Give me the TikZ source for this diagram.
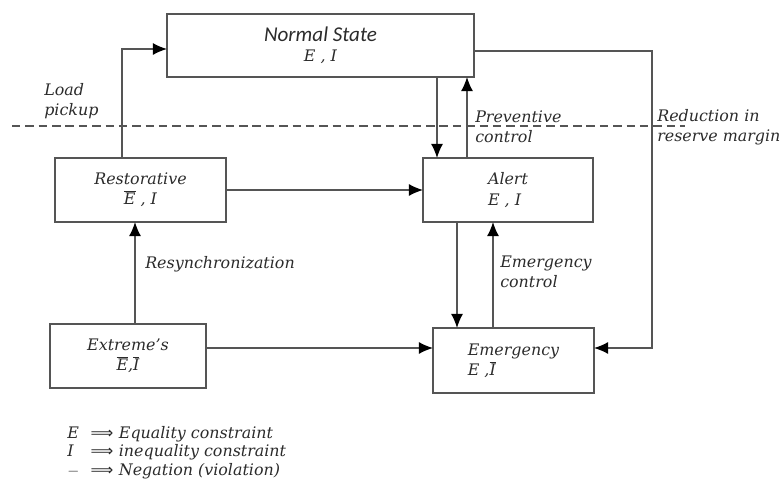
\documentclass[tikz,border=0pt]{standalone}
\usepackage{fontspec}
\setmainfont{DejaVu Serif}
\newfontfamily\headfont{Carlito}
\newfontfamily\symfont{DejaVu Sans}
\usepackage{tikz}
\usetikzlibrary{arrows.meta,positioning,calc}
\definecolor{boxline}{HTML}{555555}
\definecolor{ink}{HTML}{2B2B2B}
\newcommand{\negd}[1]{$\overline{\mbox{#1}}$}
\newcommand{\implsym}{{\symfont\upshape ⟹}}
\tikzset{
  statebox/.style={draw=boxline, line width=0.9pt, inner sep=0pt, outer sep=0pt,
                   align=center, text=ink, font=\fontsize{11.3}{14.5}\selectfont\itshape},
  edgenote/.style={text=ink, align=left, inner sep=0pt,
                   font=\fontsize{11.3}{14.5}\selectfont\itshape},
  flow/.style={-{Latex[length=10pt,width=8.5pt,color=black]}, line width=0.9pt, draw=boxline}
}

\begin{document}
\begin{tikzpicture}[x=0.025cm, y=-0.025cm]
\useasboundingbox (0,0) rectangle (784,481);

% operating states
\node[statebox, minimum width=7.675cm, minimum height=1.575cm] (normal) at (320.5,45.5)
  {{\headfont\fontsize{15}{17}\selectfont Normal State}\\E , I};
\node[statebox, minimum width=4.275cm, minimum height=1.6cm] (restor) at (140.5,190)
  {Restorative\\\negd{E} , I};
\node[statebox, align=left, minimum width=4.25cm, minimum height=1.6cm] (alert) at (508,190)
  {Alert\\E , I};
\node[statebox, align=left, minimum width=4.025cm, minimum height=1.625cm] (emerg) at (513.5,360.5)
  {Emergency\\E ,\negd{I}};
\node[statebox, minimum width=3.9cm, minimum height=1.6cm] (extreme) at (128,356)
  {Extreme's\\\negd{E},\negd{I}};

% secure / insecure border
\draw[boxline, line width=0.9pt, dash pattern=on 6pt off 3.5pt] (12,126) -- (685,126);

% transitions
\draw[flow] (restor.north -| 122,0) |- (normal.west |- 0,49);
\draw[flow] (normal.south -| 437,0) -- (alert.north -| 437,0);
\draw[flow] (alert.north -| 467,0) -- (normal.south -| 467,0);
\draw[flow] (restor.east) -- (alert.west);
\draw[flow] (extreme.north -| 135,0) -- (restor.south -| 135,0);
\draw[flow] (alert.south -| 457,0) -- (emerg.north -| 457,0);
\draw[flow] (emerg.north -| 493,0) -- (alert.south -| 493,0);
\draw[flow] (extreme.east |- 0,348) -- (emerg.west |- 0,348);
\draw[flow] (normal.east |- 0,51) -| (652,348) -- (emerg.east |- 0,348);

% transition labels
\node[edgenote, anchor=west] (loadnote) at (44,101) {Load\\pickup};
\node[edgenote, anchor=west] (prevnote) at (475,127) {Preventive\\control};
\node[edgenote, anchor=west] (reducnote) at (657,127) {Reduction in\\reserve margin};
\node[edgenote, anchor=west] (emergnote) at (500,272) {Emergency\\control};
\node[edgenote, anchor=west] (resyncnote) at (145,264) {Resynchronization};

% legend
\node[edgenote, anchor=west] (legend) at (67,453) {%
  \renewcommand{\arraystretch}{0.9}%
  \begin{tabular}{@{}l@{\hspace{8pt}}l@{\hspace{4pt}}l@{}}
  E & \implsym & Equality constraint\\
  I & \implsym & inequality constraint\\
  $-$ & \implsym & Negation (violation)
  \end{tabular}};
\end{tikzpicture}
\end{document}
